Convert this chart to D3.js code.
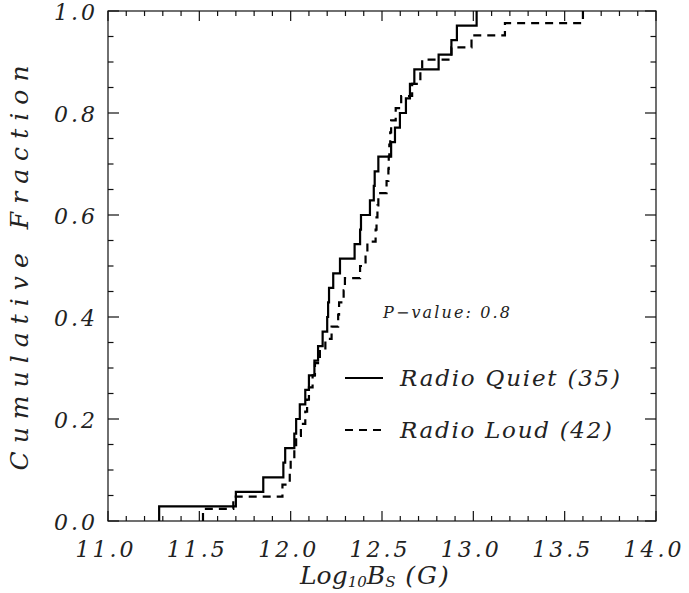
<!DOCTYPE html>
<html>
<head>
<meta charset="utf-8">
<script src="https://cdn.jsdelivr.net/npm/d3@7/dist/d3.min.js"></script>
<style>
  body { margin: 0; background: #ffffff; }
  text { font-family: "DejaVu Serif", "Liberation Serif", serif; font-style: italic; fill: #222; }
</style>
</head>
<body>
<div id="chart"></div>
<script>
// sorted sample values, one step of 1/n each
const radioQuiet = [11.28, 11.70, 11.85, 11.96, 11.97, 12.02, 12.03, 12.05, 12.08, 12.10,
  12.13, 12.15, 12.175, 12.20, 12.205, 12.21, 12.233, 12.27, 12.35, 12.38,
  12.385, 12.434, 12.455, 12.46, 12.48, 12.55, 12.571, 12.598, 12.631, 12.653,
  12.677, 12.81, 12.88, 12.91, 13.018];
const radioLoud = [11.52, 11.686, 11.955, 11.995, 12.0, 12.02, 12.03, 12.056, 12.08, 12.09,
  12.10, 12.12, 12.133, 12.16, 12.19, 12.224, 12.26, 12.265, 12.29, 12.297,
  12.38, 12.41, 12.42, 12.465, 12.47, 12.475, 12.48, 12.525, 12.535, 12.537,
  12.54, 12.545, 12.55, 12.575, 12.605, 12.665, 12.71, 12.72, 12.88, 12.99,
  13.173, 13.60];
const xTicks = [11.0, 11.5, 12.0, 12.5, 13.0, 13.5, 14.0];
const yTicks = [0.0, 0.2, 0.4, 0.6, 0.8, 1.0];
const pValue = "0.8";

const width = 689, height = 593;
const plotLeft = 108, plotRight = 656, plotTop = 11, plotBottom = 521;

const svg = d3.select("#chart").append("svg")
  .attr("width", width)
  .attr("height", height);

const x = d3.scaleLinear().domain([11, 14]).range([plotLeft, plotRight]);
const y = d3.scaleLinear().domain([0, 1]).range([plotBottom, plotTop]);

// frame
svg.append("rect")
  .attr("x", plotLeft).attr("y", plotTop)
  .attr("width", plotRight - plotLeft).attr("height", plotBottom - plotTop)
  .attr("fill", "none").attr("stroke", "#111").attr("stroke-width", 1.2);

// ticks on all four sides, pointing inward
const xMinor = d3.range(110, 141).map(d => d / 10);
const yMinor = d3.range(0, 21).map(d => d / 20);
function isMajor(v, step) { return Math.abs(v / step - Math.round(v / step)) < 1e-6; }

const g_ticks = svg.append("g").attr("stroke", "#111").attr("stroke-width", 1.2);
xMinor.forEach(v => {
  let len = isMajor(v, 0.5) ? 10 : 5;
  g_ticks.append("line").attr("x1", x(v)).attr("x2", x(v)).attr("y1", plotBottom).attr("y2", plotBottom - len);
  g_ticks.append("line").attr("x1", x(v)).attr("x2", x(v)).attr("y1", plotTop).attr("y2", plotTop + len);
});
yMinor.forEach(v => {
  let len = isMajor(v, 0.2) ? 11 : 5.5;
  g_ticks.append("line").attr("y1", y(v)).attr("y2", y(v)).attr("x1", plotLeft).attr("x2", plotLeft + len);
  g_ticks.append("line").attr("y1", y(v)).attr("y2", y(v)).attr("x1", plotRight).attr("x2", plotRight - len);
});

// tick labels
svg.append("g").selectAll("text").data(xTicks).join("text")
  .attr("x", d => x(d) - 2)
  .attr("y", 557)
  .attr("text-anchor", "middle")
  .attr("font-size", 22)
  .attr("letter-spacing", 3)
  .text(d => d.toFixed(1));

svg.append("g").selectAll("text").data(yTicks).join("text")
  .attr("x", 98)
  .attr("y", d => y(d) + 9)
  .attr("text-anchor", "end")
  .attr("font-size", 22)
  .attr("letter-spacing", 3)
  .text(d => d.toFixed(1));

// axis titles
let tx_title = svg.append("text")
  .attr("x", 300)
  .attr("y", 584)
  .attr("font-size", 25);
tx_title.append("tspan").text("Log");
tx_title.append("tspan").attr("font-size", 15).attr("dy", 3).text("10");
tx_title.append("tspan").attr("dy", -3).text("B");
tx_title.append("tspan").attr("font-size", 15).attr("dy", 3).text("S");
tx_title.append("tspan").attr("dy", -3).attr("letter-spacing", 2).text(" (G)");

svg.append("text")
  .attr("transform", "translate(28, 268) rotate(-90)")
  .attr("text-anchor", "middle")
  .attr("font-size", 25)
  .attr("textLength", 405)
  .attr("lengthAdjust", "spacing")
  .text("Cumulative Fraction");

// cumulative step curves
function stepPoints(values) {
  const n = values.length;
  return [[values[0], 0]].concat(values.map((v, i) => [v, (i + 1) / n]));
}
const line = d3.line()
  .x(d => x(d[0]))
  .y(d => y(d[1]))
  .curve(d3.curveStepAfter);

svg.append("path")
  .datum(stepPoints(radioQuiet))
  .attr("d", line)
  .attr("fill", "none")
  .attr("stroke", "#000")
  .attr("stroke-width", 2.2);

svg.append("path")
  .datum(stepPoints(radioLoud))
  .attr("d", line)
  .attr("fill", "none")
  .attr("stroke", "#000")
  .attr("stroke-width", 2.2)
  .attr("stroke-dasharray", "8,6");

// annotation and legend
svg.append("text")
  .attr("x", 383)
  .attr("y", 318)
  .attr("font-size", 16)
  .attr("textLength", 127)
  .attr("lengthAdjust", "spacing")
  .text("P\u2212value: " + pValue);

const legend = [
  { label: "Radio Quiet (" + radioQuiet.length + ")", dash: null, y: 378, len: 220 },
  { label: "Radio Loud (" + radioLoud.length + ")", dash: "8,6", y: 430, len: 212 }
];
legend.forEach(item => {
  svg.append("line")
    .attr("x1", 345).attr("x2", 383)
    .attr("y1", item.y).attr("y2", item.y)
    .attr("stroke", "#000").attr("stroke-width", 2)
    .attr("stroke-dasharray", item.dash);
  svg.append("text")
    .attr("x", 400)
    .attr("y", item.y + 8)
    .attr("font-size", 23)
    .attr("textLength", item.len)
    .attr("lengthAdjust", "spacing")
    .text(item.label);
});
</script>
</body>
</html>
